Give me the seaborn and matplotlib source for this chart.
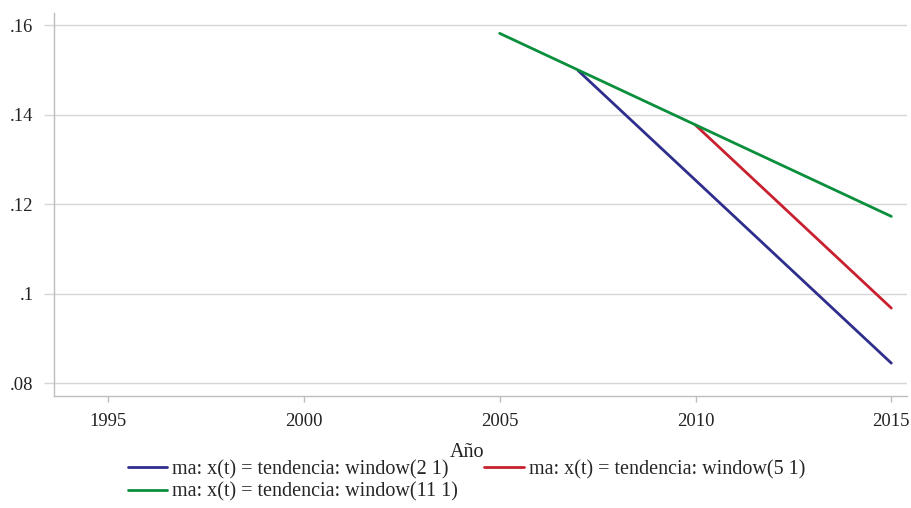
import matplotlib
matplotlib.use("Agg")
import matplotlib.pyplot as plt
import seaborn as sns
import pandas as pd

# Moving-average trend series (year, value)
years_w2 = [2007, 2015]
vals_w2 = [0.1499, 0.0845]
years_w5 = [2010, 2015]
vals_w5 = [0.1377, 0.0968]
years_w11 = [2005, 2015]
vals_w11 = [0.1582, 0.1173]

labels = [
    "ma: x(t) = tendencia: window(2 1)",
    "ma: x(t) = tendencia: window(5 1)",
    "ma: x(t) = tendencia: window(11 1)",
]
colors = ["#2e2e8c", "#c8202f", "#0a8f3c"]

x_ticks = [1995, 2000, 2005, 2010, 2015]
y_ticks = [0.08, 0.10, 0.12, 0.14, 0.16]
y_tick_labels = [".08", ".1", ".12", ".14", ".16"]

df = pd.concat([
    pd.DataFrame({"year": years_w2, "value": vals_w2, "serie": labels[0]}),
    pd.DataFrame({"year": years_w5, "value": vals_w5, "serie": labels[1]}),
    pd.DataFrame({"year": years_w11, "value": vals_w11, "serie": labels[2]}),
])

sns.set_theme(style="white")
plt.rcParams["font.family"] = ["Liberation Serif", "DejaVu Serif"]

fig = plt.figure(figsize=(9.11, 5.08), dpi=100)
ax = fig.add_axes([0.0593, 0.2205, 0.9363, 0.7539])

sns.lineplot(data=df, x="year", y="value", hue="serie", hue_order=labels,
             palette=colors, linewidth=2, ax=ax, legend=True)

ax.set_xlim(1993.62, 2015.4)
ax.set_ylim(0.07716, 0.16275)
ax.set_xticks(x_ticks)
ax.set_xticklabels([str(v) for v in x_ticks])
ax.set_yticks(y_ticks)
ax.set_yticklabels(y_tick_labels)

ax.grid(axis="y", color="#d6d6d6", linewidth=1)
ax.grid(axis="x", visible=False)
for side in ["top", "right"]:
    ax.spines[side].set_visible(False)
for side in ["left", "bottom"]:
    ax.spines[side].set_color("#bdbdbd")
    ax.spines[side].set_linewidth(1)
ax.tick_params(axis="both", which="major", width=1, labelsize=13.4,
               labelcolor="#222222", direction="out", left=True, bottom=True)
ax.tick_params(axis="x", length=4.5, color="#bdbdbd", pad=7.6)
ax.tick_params(axis="y", length=7.2, color="#d6d6d6", pad=7.5)

ax.set_xlabel("Año", fontsize=14.5, color="#222222")
ax.xaxis.set_label_coords(0.484, -0.123)
ax.set_ylabel("")

# two-column legend filled row by row
handles, lbls = ax.get_legend_handles_labels()
order = [0, 2, 1]
ax.legend([handles[i] for i in order], [lbls[i] for i in order],
          loc="upper left", bbox_to_anchor=(0.1405, 0.094),
          bbox_transform=fig.transFigure,
          ncol=2, frameon=False, fontsize=14.5, handlelength=1.95,
          handletextpad=0.25, columnspacing=1.3, labelspacing=0.15,
          borderpad=0, borderaxespad=0)

fig.savefig("out.png", dpi=100)
